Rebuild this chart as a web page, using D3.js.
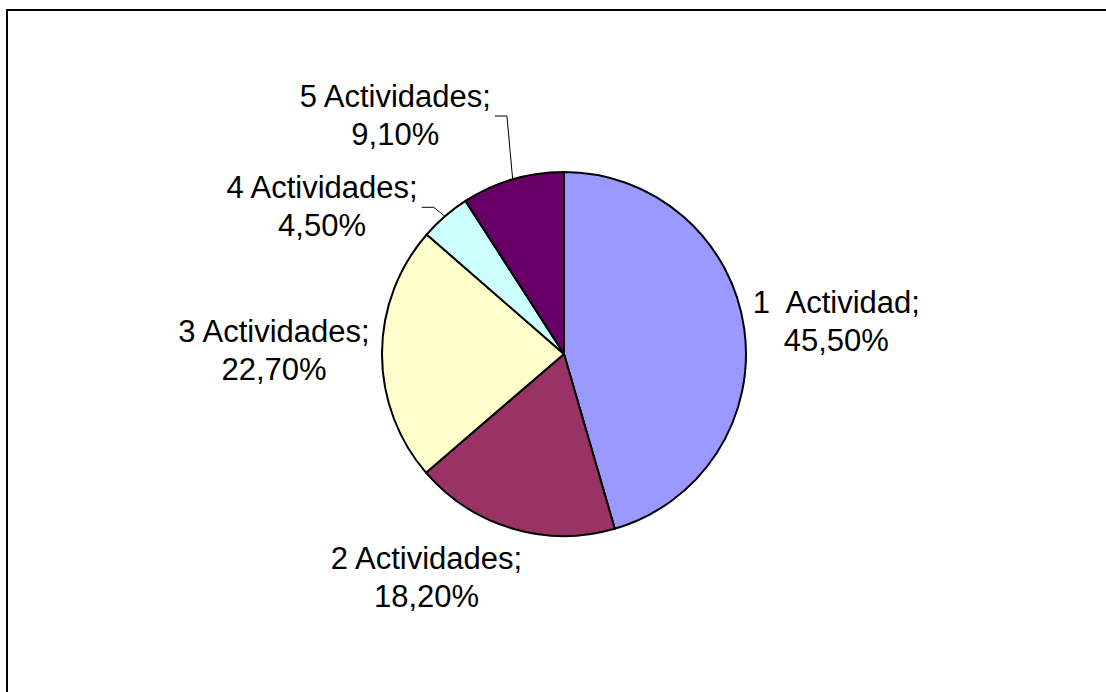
<!DOCTYPE html>
<html>
<head>
<meta charset="utf-8">
<script src="https://cdn.jsdelivr.net/npm/d3@7"></script>
<style>
  body { margin: 0; background: #fff; }
</style>
</head>
<body>
<div class="chart"></div>
<script>
// data
var categories = ["1  Actividad", "2 Actividades", "3 Actividades", "4 Actividades", "5 Actividades"];
var percentages = [45.5, 18.2, 22.7, 4.5, 9.1];
var sliceColors = ["#9999FF", "#993366", "#FFFFCC", "#CCFFFF", "#660066"];

// label layout tweaks (dx, dy from the polar anchor), and which labels get a leader line
var labelNudge = [[3, -3], [-60, -46], [-18, -11], [-64, 50], [-92, 14]];
var hasLeader = [false, false, false, true, true];

var svgWidth = 1106;
var svgHeight = 692;

var svg = d3.select(".chart")
  .append("svg")
  .attr("width", svgWidth)
  .attr("height", svgHeight)
  .style("display", "block");

// chart frame (runs off the right/bottom edge like the original)
svg.append("rect")
  .attr("x", 7)
  .attr("y", 10)
  .attr("width", svgWidth)
  .attr("height", svgHeight)
  .attr("fill", "#fff")
  .attr("stroke", "#000")
  .attr("stroke-width", 2);

var cx = 564, cy = 354, radius = 182;

var chartGroup = svg.append("g")
  .attr("transform", `translate(${cx}, ${cy})`);

var myData = categories.map(function(c, i) {
  return { name: c, value: percentages[i], color: sliceColors[i], i: i };
});

var pie = d3.pie()
  .sort(null)
  .value(d => d.value);

var arc = d3.arc()
  .innerRadius(0)
  .outerRadius(radius);

var arcs = pie(myData);

chartGroup.selectAll("path.slice")
  .data(arcs)
  .enter()
  .append("path")
  .classed("slice", true)
  .attr("d", arc)
  .attr("fill", d => d.data.color)
  .attr("stroke", "#000")
  .attr("stroke-width", 2)
  .attr("stroke-linejoin", "round");

function fmt(v) {
  return v.toFixed(2).replace(".", ",") + "%";
}

function polar(angle, r) {
  return [r * Math.sin(angle), -r * Math.cos(angle)];
}

var lineGap = 38;

var labels = chartGroup.selectAll("text.pie-label")
  .data(arcs)
  .enter()
  .append("text")
  .classed("pie-label", true)
  .attr("text-anchor", "middle")
  .style("font", "31px 'Liberation Sans', Arial, sans-serif")
  .style("white-space", "pre")
  .attr("fill", "#000")
  .each(function(d) {
    var mid = (d.startAngle + d.endAngle) / 2;
    var p = polar(mid, radius + 90);
    var n = labelNudge[d.data.i];
    var x = p[0] + n[0], y = p[1] + n[1];
    var t = d3.select(this);
    t.append("tspan").attr("x", x).attr("y", y).text(d.data.name + ";");
    t.append("tspan").attr("x", x).attr("y", y + lineGap).text(fmt(d.data.value));
    d.labelX = x;
    d.labelY = y;
  });

// leader lines for the small slices
labels.each(function(d) {
  if (!hasLeader[d.data.i]) return;
  var first = this.firstChild.getBBox();
  var mid = (d.startAngle + d.endAngle) / 2;
  var edge = polar(mid, radius);
  var x0 = first.x + first.width + 4;
  var y0 = d.labelY + 9;
  var x1 = first.x + first.width + 16;
  chartGroup.append("polyline")
    .attr("points", [[x0, y0], [x1, y0], edge].map(p => p.join(",")).join(" "))
    .attr("fill", "none")
    .attr("stroke", "#000")
    .attr("stroke-width", 1);
});
</script>
</body>
</html>
